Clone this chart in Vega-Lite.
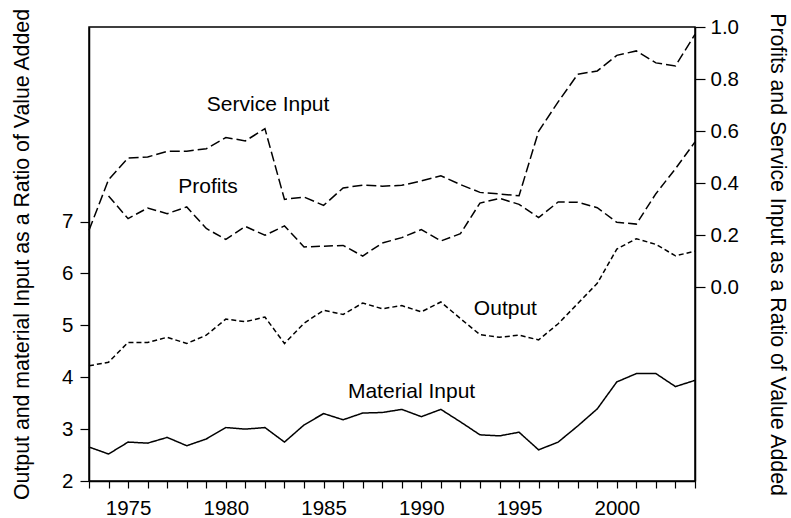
{
  "$schema": "https://vega.github.io/schema/vega-lite/v6.json",
  "width": 606,
  "height": 454,
  "autosize": {"type": "none"},
  "padding": {"left": 89, "top": 27, "right": 96, "bottom": 37},
  "background": "white",
  "datasets": {
    "series": [
      {"series": "Material Input", "year": 1973, "value": 2.655},
      {"series": "Material Input", "year": 1974, "value": 2.52},
      {"series": "Material Input", "year": 1975, "value": 2.75},
      {"series": "Material Input", "year": 1976, "value": 2.73},
      {"series": "Material Input", "year": 1977, "value": 2.84},
      {"series": "Material Input", "year": 1978, "value": 2.68},
      {"series": "Material Input", "year": 1979, "value": 2.81},
      {"series": "Material Input", "year": 1980, "value": 3.03},
      {"series": "Material Input", "year": 1981, "value": 3.0},
      {"series": "Material Input", "year": 1982, "value": 3.03},
      {"series": "Material Input", "year": 1983, "value": 2.75},
      {"series": "Material Input", "year": 1984, "value": 3.08},
      {"series": "Material Input", "year": 1985, "value": 3.3},
      {"series": "Material Input", "year": 1986, "value": 3.18},
      {"series": "Material Input", "year": 1987, "value": 3.31},
      {"series": "Material Input", "year": 1988, "value": 3.32},
      {"series": "Material Input", "year": 1989, "value": 3.38},
      {"series": "Material Input", "year": 1990, "value": 3.24},
      {"series": "Material Input", "year": 1991, "value": 3.38},
      {"series": "Material Input", "year": 1992, "value": 3.14},
      {"series": "Material Input", "year": 1993, "value": 2.89},
      {"series": "Material Input", "year": 1994, "value": 2.87},
      {"series": "Material Input", "year": 1995, "value": 2.94},
      {"series": "Material Input", "year": 1996, "value": 2.6},
      {"series": "Material Input", "year": 1997, "value": 2.75},
      {"series": "Material Input", "year": 1998, "value": 3.06},
      {"series": "Material Input", "year": 1999, "value": 3.39},
      {"series": "Material Input", "year": 2000, "value": 3.91},
      {"series": "Material Input", "year": 2001, "value": 4.07},
      {"series": "Material Input", "year": 2002, "value": 4.07},
      {"series": "Material Input", "year": 2003, "value": 3.82},
      {"series": "Material Input", "year": 2004, "value": 3.94},
      {"series": "Output", "year": 1973, "value": 4.22},
      {"series": "Output", "year": 1974, "value": 4.29},
      {"series": "Output", "year": 1975, "value": 4.67},
      {"series": "Output", "year": 1976, "value": 4.67},
      {"series": "Output", "year": 1977, "value": 4.77},
      {"series": "Output", "year": 1978, "value": 4.65},
      {"series": "Output", "year": 1979, "value": 4.81},
      {"series": "Output", "year": 1980, "value": 5.12},
      {"series": "Output", "year": 1981, "value": 5.07},
      {"series": "Output", "year": 1982, "value": 5.16},
      {"series": "Output", "year": 1983, "value": 4.65},
      {"series": "Output", "year": 1984, "value": 5.04},
      {"series": "Output", "year": 1985, "value": 5.29},
      {"series": "Output", "year": 1986, "value": 5.21},
      {"series": "Output", "year": 1987, "value": 5.43},
      {"series": "Output", "year": 1988, "value": 5.32},
      {"series": "Output", "year": 1989, "value": 5.38},
      {"series": "Output", "year": 1990, "value": 5.26},
      {"series": "Output", "year": 1991, "value": 5.45},
      {"series": "Output", "year": 1992, "value": 5.13},
      {"series": "Output", "year": 1993, "value": 4.82},
      {"series": "Output", "year": 1994, "value": 4.77},
      {"series": "Output", "year": 1995, "value": 4.81},
      {"series": "Output", "year": 1996, "value": 4.72},
      {"series": "Output", "year": 1997, "value": 5.03},
      {"series": "Output", "year": 1998, "value": 5.42},
      {"series": "Output", "year": 1999, "value": 5.81},
      {"series": "Output", "year": 2000, "value": 6.47},
      {"series": "Output", "year": 2001, "value": 6.67},
      {"series": "Output", "year": 2002, "value": 6.56},
      {"series": "Output", "year": 2003, "value": 6.34},
      {"series": "Output", "year": 2004, "value": 6.43},
      {"series": "Profits", "year": 1974, "value": 0.35},
      {"series": "Profits", "year": 1975, "value": 0.263},
      {"series": "Profits", "year": 1976, "value": 0.304},
      {"series": "Profits", "year": 1977, "value": 0.282},
      {"series": "Profits", "year": 1978, "value": 0.308},
      {"series": "Profits", "year": 1979, "value": 0.225},
      {"series": "Profits", "year": 1980, "value": 0.183},
      {"series": "Profits", "year": 1981, "value": 0.233},
      {"series": "Profits", "year": 1982, "value": 0.199},
      {"series": "Profits", "year": 1983, "value": 0.235},
      {"series": "Profits", "year": 1984, "value": 0.154},
      {"series": "Profits", "year": 1985, "value": 0.157},
      {"series": "Profits", "year": 1986, "value": 0.16},
      {"series": "Profits", "year": 1987, "value": 0.119},
      {"series": "Profits", "year": 1988, "value": 0.169},
      {"series": "Profits", "year": 1989, "value": 0.19},
      {"series": "Profits", "year": 1990, "value": 0.221},
      {"series": "Profits", "year": 1991, "value": 0.177},
      {"series": "Profits", "year": 1992, "value": 0.205},
      {"series": "Profits", "year": 1993, "value": 0.323},
      {"series": "Profits", "year": 1994, "value": 0.341},
      {"series": "Profits", "year": 1995, "value": 0.318},
      {"series": "Profits", "year": 1996, "value": 0.267},
      {"series": "Profits", "year": 1997, "value": 0.327},
      {"series": "Profits", "year": 1998, "value": 0.326},
      {"series": "Profits", "year": 1999, "value": 0.305},
      {"series": "Profits", "year": 2000, "value": 0.249},
      {"series": "Profits", "year": 2001, "value": 0.242},
      {"series": "Profits", "year": 2002, "value": 0.359},
      {"series": "Profits", "year": 2003, "value": 0.455},
      {"series": "Profits", "year": 2004, "value": 0.558},
      {"series": "Service Input", "year": 1973, "value": 0.218},
      {"series": "Service Input", "year": 1974, "value": 0.413},
      {"series": "Service Input", "year": 1975, "value": 0.496},
      {"series": "Service Input", "year": 1976, "value": 0.5},
      {"series": "Service Input", "year": 1977, "value": 0.522},
      {"series": "Service Input", "year": 1978, "value": 0.522},
      {"series": "Service Input", "year": 1979, "value": 0.532},
      {"series": "Service Input", "year": 1980, "value": 0.575},
      {"series": "Service Input", "year": 1981, "value": 0.562},
      {"series": "Service Input", "year": 1982, "value": 0.609},
      {"series": "Service Input", "year": 1983, "value": 0.337},
      {"series": "Service Input", "year": 1984, "value": 0.346},
      {"series": "Service Input", "year": 1985, "value": 0.314},
      {"series": "Service Input", "year": 1986, "value": 0.381},
      {"series": "Service Input", "year": 1987, "value": 0.392},
      {"series": "Service Input", "year": 1988, "value": 0.388},
      {"series": "Service Input", "year": 1989, "value": 0.391},
      {"series": "Service Input", "year": 1990, "value": 0.408},
      {"series": "Service Input", "year": 1991, "value": 0.428},
      {"series": "Service Input", "year": 1992, "value": 0.394},
      {"series": "Service Input", "year": 1993, "value": 0.364},
      {"series": "Service Input", "year": 1994, "value": 0.358},
      {"series": "Service Input", "year": 1995, "value": 0.351},
      {"series": "Service Input", "year": 1996, "value": 0.599},
      {"series": "Service Input", "year": 1997, "value": 0.712},
      {"series": "Service Input", "year": 1998, "value": 0.818},
      {"series": "Service Input", "year": 1999, "value": 0.831},
      {"series": "Service Input", "year": 2000, "value": 0.891},
      {"series": "Service Input", "year": 2001, "value": 0.908},
      {"series": "Service Input", "year": 2002, "value": 0.862},
      {"series": "Service Input", "year": 2003, "value": 0.85},
      {"series": "Service Input", "year": 2004, "value": 0.972}
    ],
    "labels": [
      {"label": "Service Input", "year": 1982.16, "value": 0.699, "side": "right"},
      {"label": "Profits", "year": 1979.09, "value": 0.385, "side": "right"},
      {"label": "Output", "year": 1994.3, "value": 5.32, "side": "left"},
      {"label": "Material Input", "year": 1989.5, "value": 3.715, "side": "left"}
    ]
  },
  "encoding": {
    "x": {
      "field": "year",
      "type": "quantitative",
      "scale": {"domain": [1973, 2004], "nice": false, "zero": false},
      "axis": {
        "title": null,
        "values": [1973,1974,1975,1976,1977,1978,1979,1980,1981,1982,1983,1984,1985,1986,1987,1988,1989,1990,1991,1992,1993,1994,1995,1996,1997,1998,1999,2000,2001,2002,2003,2004],
        "labelExpr": "datum.value % 5 == 0 ? format(datum.value, 'd') : ''",
        "labelOverlap": false,
        "tickSize": 7,
        "labelPadding": 10,
        "labelFlush": false
      }
    }
  },
  "layer": [
    {
      "encoding": {
        "y": {
          "field": "value",
          "type": "quantitative",
          "scale": {"domain": [2, 10.75], "nice": false, "zero": false},
          "axis": {
            "orient": "left",
            "values": [2, 3, 4, 5, 6, 7],
            "format": "d",
            "title": "Output and material Input as a Ratio of Value Added",
            "titleX": -67,
            "titleY": 227,
            "titleAngle": -90,
            "titleBaseline": "middle",
            "titleAnchor": null,
            "tickSize": 9,
            "labelPadding": 7
          }
        }
      },
      "layer": [
        {
          "data": {"name": "series"},
          "transform": [{"filter": "datum.series == 'Output' || datum.series == 'Material Input'"}],
          "mark": {"type": "line", "color": "black", "strokeWidth": 1.5},
          "encoding": {
            "detail": {"field": "series"},
            "strokeDash": {
              "field": "series",
              "type": "nominal",
              "scale": {"domain": ["Output", "Material Input", "Profits", "Service Input"], "range": [[5, 3], [1, 0], [9, 4], [10, 4]]},
              "legend": null
            }
          }
        },
        {
          "data": {"name": "labels"},
          "transform": [{"filter": "datum.side == 'left'"}],
          "mark": {"type": "text", "font": "Liberation Sans", "fontSize": 21, "color": "black", "baseline": "middle", "align": "center"},
          "encoding": {"text": {"field": "label"}}
        }
      ]
    },
    {
      "encoding": {
        "y": {
          "field": "value",
          "type": "quantitative",
          "scale": {"domain": [-0.746, 1.0], "nice": false, "zero": false},
          "axis": {
            "orient": "right",
            "values": [0, 0.2, 0.4, 0.6, 0.8, 1.0],
            "format": ".1f",
            "title": "Profits and Service Input as a Ratio of Value Added",
            "titleX": 81,
            "titleY": 227,
            "titleAngle": 90,
            "titleBaseline": "middle",
            "titleAnchor": null,
            "tickSize": 10,
            "labelPadding": 5
          }
        }
      },
      "layer": [
        {
          "data": {"name": "series"},
          "transform": [{"filter": "datum.series == 'Profits' || datum.series == 'Service Input'"}],
          "mark": {"type": "line", "color": "black", "strokeWidth": 1.5},
          "encoding": {
            "detail": {"field": "series"},
            "strokeDash": {
              "field": "series",
              "type": "nominal",
              "scale": {"domain": ["Output", "Material Input", "Profits", "Service Input"], "range": [[5, 3], [1, 0], [9, 4], [10, 4]]},
              "legend": null
            }
          }
        },
        {
          "data": {"name": "labels"},
          "transform": [{"filter": "datum.side == 'right'"}],
          "mark": {"type": "text", "font": "Liberation Sans", "fontSize": 21, "color": "black", "baseline": "middle", "align": "center"},
          "encoding": {"text": {"field": "label"}}
        }
      ]
    }
  ],
  "resolve": {"scale": {"y": "independent"}},
  "config": {
    "view": {"stroke": "black", "strokeWidth": 1.5},
    "axis": {
      "grid": false,
      "domainColor": "black",
      "domainWidth": 1.5,
      "tickColor": "black",
      "tickWidth": 1.2,
      "labelColor": "black",
      "labelFont": "Liberation Sans",
      "labelFontSize": 20.5,
      "titleColor": "black",
      "titleFont": "Liberation Sans",
      "titleFontSize": 21.3,
      "titleFontWeight": "normal"
    }
  }
}
